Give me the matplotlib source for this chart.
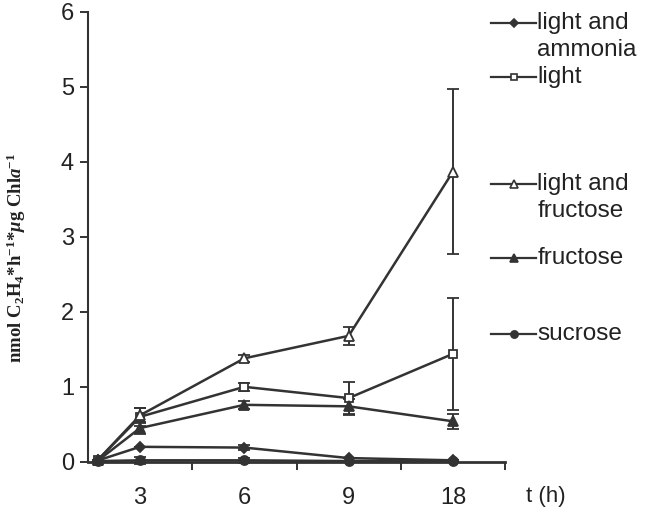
import numpy as np
import matplotlib
matplotlib.use('Agg')
import matplotlib.pyplot as plt
from matplotlib.lines import Line2D

plt.rcParams['font.family'] = 'Liberation Sans'
plt.rcParams['mathtext.fontset'] = 'custom'
plt.rcParams['mathtext.rm'] = 'Liberation Serif:bold'
plt.rcParams['mathtext.it'] = 'Liberation Serif:italic:bold'

# sampling times (h) and measured rates
times = [0, 3, 6, 9, 18]
tick_labels = ['3', '6', '9', '18']

labels = ['light and\nammonia', 'light', 'light and\nfructose', 'fructose', 'sucrose']
ammonia = [0.02, 0.20, 0.19, 0.05, 0.02]
light = [0.03, 0.60, 1.00, 0.85, 1.44]
light_fructose = [0.03, 0.62, 1.38, 1.68, 3.87]
fructose = [0.02, 0.45, 0.76, 0.74, 0.54]
sucrose = [0.01, 0.02, 0.02, 0.01, 0.01]

ammonia_err = [0, 0, 0.03, 0, 0]
light_err = [0, 0.12, 0.05, 0.22, 0.75]
light_fructose_err = [0, 0.10, 0.05, 0.12, 1.10]
fructose_err = [0, 0.08, 0.05, 0.10, 0.10]
sucrose_err = [0, 0.05, 0.03, 0, 0]

series = [ammonia, light, light_fructose, fructose, sucrose]
errors = [ammonia_err, light_err, light_fructose_err, fructose_err, sucrose_err]

# marker styles: (marker, face colour, size)
styles = [('D', '#333333', 5.5), ('s', 'white', 6), ('^', 'white', 7),
          ('^', '#333333', 7), ('o', '#333333', 6.5)]
col = '#333333'

# categorical x positions, t=0 sits just right of the y axis
x_pos = [0.6, 1, 2, 3, 4]

fig = plt.figure(figsize=(6.46, 5.16), dpi=100)
ax = fig.add_axes([0.136, 0.105, 0.646, 0.872])

for vals, err, (m, fc, ms) in zip(series, errors, styles):
    ax.errorbar(x_pos, vals, yerr=err, color=col, lw=1.8, marker=m, mfc=fc,
                mec=col, mew=1.3, ms=ms, capsize=4.5, capthick=1.5,
                elinewidth=1.4, clip_on=False, zorder=3)

ax.set_xlim(0.5, 4.5)
ax.set_ylim(0, 6)
ax.spines['top'].set_visible(False)
ax.spines['right'].set_visible(False)
ax.spines['left'].set_color(col)
ax.spines['bottom'].set_color(col)
ax.spines['left'].set_linewidth(1.5)
ax.spines['bottom'].set_linewidth(2.0)

ax.set_yticks(range(7))
ax.tick_params(axis='y', direction='out', length=6, width=1.4, color=col,
               labelsize=17, labelcolor='#222222', pad=4)
# ticks between categories, labels under categories
ax.set_xticks([1.5, 2.5, 3.5, 4.5])
ax.set_xticklabels([])
ax.tick_params(axis='x', direction='out', length=6, width=1.4, color=col)
ax.set_xticks([1, 2, 3, 4], minor=True)
ax.set_xticklabels(tick_labels, minor=True)
ax.tick_params(axis='x', which='minor', length=0, labelsize=17,
               labelcolor='#222222', pad=18)

fig.text(0.845, 0.037, 't (h)', fontsize=16, color='#222222',
         ha='center', va='center')

fig.text(0.026, 0.5,
         r'nmol C$_{2}$H$_{4}$*h$^{-1}$*$\mu$g Chl$\it{a}$$^{-1}$',
         rotation=90, ha='center', va='center', fontsize=13.5,
         family='Liberation Serif', weight='bold', color='#222222')

# hand-placed legend on the right
legend_y = [0.955, 0.851, 0.643, 0.500, 0.352]
for lab, (m, fc, ms), yy in zip(labels, styles, legend_y):
    fig.add_artist(Line2D([0.760, 0.795, 0.829], [yy, yy, yy],
                          transform=fig.transFigure, color=col, lw=1.6,
                          marker=m, mfc=fc, mec=col, mew=1.2, ms=ms * 0.8,
                          markevery=[1]))
    for k, line in enumerate(lab.split('\n')):
        fig.text(0.832, yy - k * 0.052, line, fontsize=17.5, color='#222222',
                 ha='left', va='center')

fig.savefig('out.png', dpi=100)
